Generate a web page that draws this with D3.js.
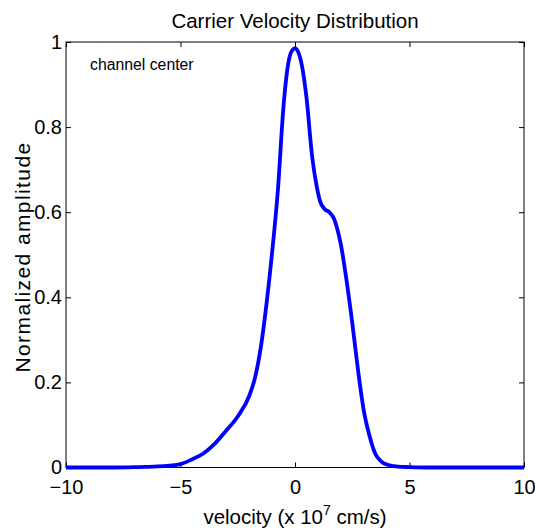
<!DOCTYPE html>
<html><head><meta charset="utf-8">
<script src="https://cdn.jsdelivr.net/npm/d3@7"></script>
<style>body{margin:0;background:#fff}svg{display:block}text{font-family:"Liberation Sans",Arial,Helvetica,sans-serif;fill:#000}</style>
</head><body><svg id="c" width="535" height="531"></svg>
<script>
const velocity = [-10,-8,-7,-6.5,-6,-5.5,-5,-4.5,-4,-3.5,-3,-2.5,-2,-1.75,-1.5,-1.25,-1,-0.75,-0.5,-0.3,-0.15,0,0.15,0.3,0.5,0.75,0.95,1.1,1.3,1.5,1.7,1.85,2.0,2.25,2.5,2.75,3.0,3.25,3.5,3.75,4.0,4.5,5,6,8,10];
const amplitude = [0,0,0.0008,0.0015,0.0025,0.0045,0.008,0.019,0.033,0.056,0.087,0.12,0.168,0.21,0.28,0.382,0.505,0.65,0.85,0.948,0.978,0.985,0.975,0.945,0.87,0.73,0.66,0.625,0.607,0.6,0.585,0.56,0.525,0.44,0.34,0.23,0.135,0.075,0.033,0.015,0.007,0.002,0.001,0,0,0];
const xTicks = [-10,-5,0,5,10];
const yTicks = [0,0.2,0.4,0.6,0.8,1];
const title = "Carrier Velocity Distribution";
const yLabel = "Normalized amplitude";
const annotation = "channel center";

const L=66,R=524,T=42,B=467.5;
const svg=d3.select("#c");
const x=d3.scaleLinear().domain([-10,10]).range([L,R]);
const y=d3.scaleLinear().domain([0,1]).range([B,T]);
const fmtX=d3.format("d");
const fmtY=v=>v===0?"0":(v===1?"1":d3.format(".1f")(v));
const minus=s=>String(s).replace("-","\u2013");

svg.append("rect").attr("x",L).attr("y",T).attr("width",R-L).attr("height",B-T).attr("fill","none").attr("stroke","#000").attr("stroke-width",1);

const gB=svg.append("g").attr("transform",`translate(0,${B})`)
 .call(d3.axisBottom(x).tickValues(xTicks).tickSizeInner(-5).tickSizeOuter(0).tickPadding(12).tickFormat(d=>minus(fmtX(d))));
const gT=svg.append("g").attr("transform",`translate(0,${T})`)
 .call(d3.axisTop(x).tickValues(xTicks).tickSizeInner(-5).tickSizeOuter(0).tickFormat(""));
const gL=svg.append("g").attr("transform",`translate(${L},0)`)
 .call(d3.axisLeft(y).tickValues(yTicks).tickSizeInner(-5).tickSizeOuter(0).tickPadding(4).tickFormat(fmtY));
const gR=svg.append("g").attr("transform",`translate(${R},0)`)
 .call(d3.axisRight(y).tickValues(yTicks).tickSizeInner(-5).tickSizeOuter(0).tickFormat(""));
[gB,gT,gL,gR].forEach(g=>{g.select(".domain").remove();g.selectAll("line").attr("stroke","#000");g.selectAll("text").attr("font-size",20).attr("font-family","Liberation Sans, Arial, sans-serif").attr("fill","#000");});

const line=d3.line().x((d,i)=>x(velocity[i])).y((d,i)=>y(amplitude[i])).curve(d3.curveMonotoneX);
svg.append("path").datum(amplitude).attr("d",line).attr("fill","none").attr("stroke","#0000ff").attr("stroke-width",3.8).attr("stroke-linejoin","round");

svg.append("text").attr("x",(L+R)/2).attr("y",28).attr("text-anchor","middle").attr("font-size",20.5).text(title);
const xl=svg.append("text").attr("x",(L+R)/2).attr("y",524).attr("text-anchor","middle").attr("font-size",20.5);
xl.append("tspan").text("velocity (x 10");
xl.append("tspan").attr("dy",-9).attr("font-size",14).text("7");
xl.append("tspan").attr("dy",9).text(" cm/s)");
svg.append("text").attr("transform",`translate(30,257) rotate(-90)`).attr("text-anchor","middle").attr("font-size",21).attr("letter-spacing",1.4).text(yLabel);
svg.append("text").attr("x",90).attr("y",70).attr("font-size",15.8).text(annotation);
</script></body></html>
